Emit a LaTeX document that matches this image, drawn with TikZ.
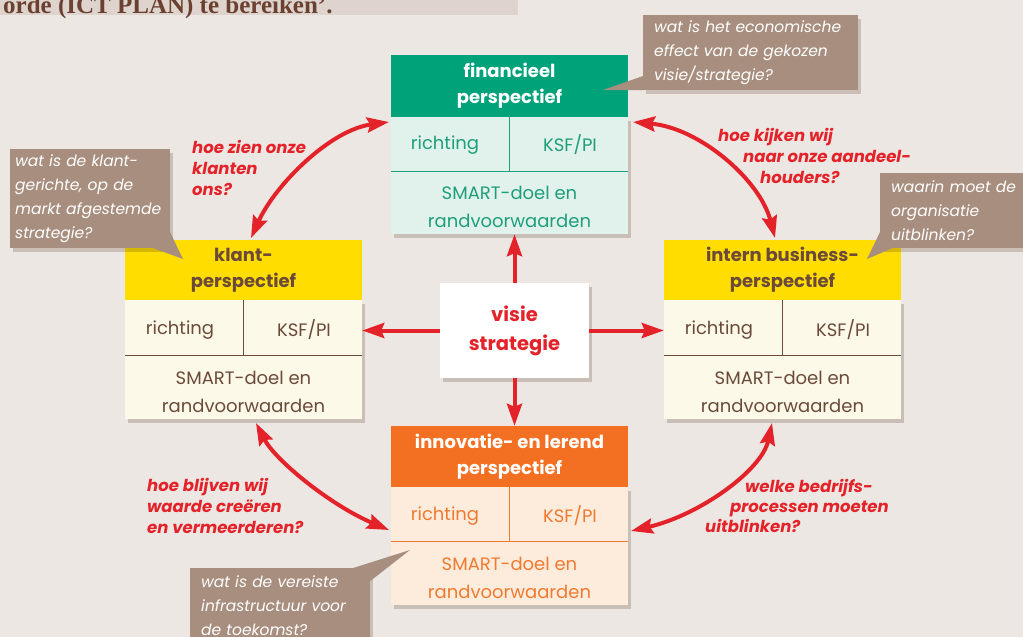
\documentclass[tikz,border=0pt]{standalone}
\usepackage{fontspec}
\setmainfont{Poppins}
\newfontfamily\serifb{Liberation Serif}
\usetikzlibrary{arrows.meta,shadows}
\definecolor{bg}{HTML}{EDE7E3}
\definecolor{band}{HTML}{DED4CD}
\definecolor{bandtext}{HTML}{6B4030}
\definecolor{fgreen}{HTML}{00A27A}
\definecolor{mint}{HTML}{E1F2EC}
\definecolor{greentext}{HTML}{1E9E7A}
\definecolor{kyellow}{HTML}{FFDD00}
\definecolor{cream}{HTML}{FDF9E8}
\definecolor{browntext}{HTML}{6B4A3A}
\definecolor{iorange}{HTML}{F36F21}
\definecolor{peach}{HTML}{FDEBDC}
\definecolor{orangetext}{HTML}{F07A30}
\definecolor{myred}{HTML}{E42229}
\definecolor{callbrown}{HTML}{A88E7E}
\tikzset{
  shad/.style={drop shadow={shadow xshift=3pt,shadow yshift=-4pt,opacity=0.22,fill=black!60!brown}},
  bodybox/.style={rectangle,minimum width=237,inner sep=0pt,shad},
  hdr/.style={rectangle,minimum width=237,inner sep=0pt,align=center,font=\fontsize{18}{26}\selectfont\bfseries},
  cell/.style={inner sep=0pt,font=\fontsize{18}{28}\selectfont,align=center},
  redarrow/.style={myred,line width=4pt,-{Stealth[length=22pt,width=15pt,inset=3pt]}},
  dblarrow/.style={myred,line width=4pt,{Stealth[length=22pt,width=15pt,inset=3pt]}-{Stealth[length=22pt,width=15pt,inset=3pt]}},
  redlabel/.style={anchor=base west,inner sep=0pt,text=myred,font=\fontsize{16.5}{21}\selectfont\bfseries\itshape},
  callout/.style={fill=callbrown,text=white,anchor=north west,inner xsep=11pt,inner ysep=0pt,align=left,font=\fontsize{15.5}{24}\selectfont\itshape,shad},
}
\begin{document}
\begin{tikzpicture}[x=1pt,y=-1pt]
\fill[bg] (0,0) rectangle (1023,637);
\useasboundingbox (0,0) rectangle (1023,637);
% top band
\fill[band] (0,0) rectangle (518,15);
\node[anchor=base west,inner sep=0pt,text=bandtext,font=\serifb\fontsize{25}{25}\selectfont\bfseries] (band) at (3,13) {orde (ICT PLAN) te bereiken’.};

% ---------- financieel
\node[bodybox,fill=mint,minimum height=117] (fb) at (509.5,175.5) {};
\node[hdr,fill=fgreen,minimum height=62,text=white] (fh) at (509.5,86) {financieel\\perspectief};
\draw[greentext,line width=1pt] (391,171) -- (628,171) (509.5,117) -- (509.5,171);
\node[cell,text=greentext] (fr) at (445,145) {richting};
\node[cell,text=greentext] (fk) at (570,145) {KSF/PI};
\node[cell,text=greentext] (fs) at (509.5,207) {SMART-doel en\\randvoorwaarden};

% ---------- klant
\node[bodybox,fill=cream,minimum height=119] (kb) at (243.5,359.5) {};
\node[hdr,fill=kyellow,minimum height=60,text=browntext] (kh) at (243.5,270) {klant-\\perspectief};
\draw[browntext,line width=1pt] (125,355) -- (362,355) (243.5,300) -- (243.5,355);
\node[cell,text=browntext] (kr) at (180,330) {richting};
\node[cell,text=browntext] (kk) at (304,330) {KSF/PI};
\node[cell,text=browntext] (ks) at (243.5,392) {SMART-doel en\\randvoorwaarden};

% ---------- intern
\node[bodybox,fill=cream,minimum height=119] (ib) at (782.5,359.5) {};
\node[hdr,fill=kyellow,minimum height=60,text=browntext] (ih) at (782.5,270) {intern business-\\perspectief};
\draw[browntext,line width=1pt] (664,355) -- (901,355) (782.5,300) -- (782.5,355);
\node[cell,text=browntext] (ir) at (719,330) {richting};
\node[cell,text=browntext] (ik) at (843,330) {KSF/PI};
\node[cell,text=browntext] (is) at (782.5,392) {SMART-doel en\\randvoorwaarden};

% ---------- innovatie
\node[bodybox,fill=peach,minimum height=118] (nb) at (509.5,546) {};
\node[hdr,fill=iorange,minimum height=61,text=white] (nh) at (509.5,456.5) {innovatie- en lerend\\perspectief};
\draw[orangetext,line width=1pt] (391,541) -- (628,541) (509.5,487) -- (509.5,541);
\node[cell,text=orangetext] (nr) at (445,516) {richting};
\node[cell,text=orangetext] (nk) at (570,516) {KSF/PI};
\node[cell,text=orangetext] (ns) at (509.5,578) {SMART-doel en\\randvoorwaarden};

% ---------- centre
\node[rectangle,fill=white,minimum width=149,minimum height=95,inner sep=0pt,shad,
      align=center,text=myred,font=\fontsize{19.5}{29}\selectfont\bfseries] (vs) at (514.5,330.5) {visie\\strategie};

% straight arrows
\draw[redarrow] (vs.north) -- (vs.north |- fb.south);
\draw[redarrow] (vs.south) -- (vs.south |- nh.north);
\draw[redarrow] (vs.west) -- (vs.west -| kb.east);
\draw[redarrow] (vs.east) -- (vs.east -| ib.west);

% curved arrows
\coordinate (a1s) at (251,238);
\coordinate (a1e) at (389,122);
\draw[dblarrow] (a1s) .. controls (275,185) and (330,130) .. (a1e);
\coordinate (a2s) at (633,122);
\coordinate (a2e) at (775,238);
\draw[dblarrow] (a2s) .. controls (700,128) and (760,180) .. (a2e);
\coordinate (a3s) at (256,423);
\coordinate (a3e) at (389,530);
\draw[dblarrow] (a3s) .. controls (275,460) and (330,505) .. (a3e);
\coordinate (a4s) at (772,423);
\coordinate (a4e) at (631,531);
\draw[dblarrow] (a4s) .. controls (762,470) and (700,515) .. (a4e);

% red labels
\node[redlabel] (l1a) at (192,153) {hoe zien onze};
\node[redlabel] (l1b) at (192,174) {klanten};
\node[redlabel] (l1c) at (192,195) {ons?};
\node[redlabel] (l2a) at (718,141) {hoe kijken wij};
\node[redlabel] (l2b) at (743,162) {naar onze aandeel-};
\node[redlabel] (l2c) at (760,183) {houders?};
\node[redlabel] (l3a) at (147,491) {hoe blijven wij};
\node[redlabel] (l3b) at (147,512) {waarde creëren};
\node[redlabel] (l3c) at (147,533) {en vermeerderen?};
\node[redlabel] (l4a) at (745,492) {welke bedrijfs-};
\node[redlabel] (l4b) at (730,512) {processen moeten};
\node[redlabel] (l4c) at (705,532) {uitblinken?};

% callouts
\node[callout,minimum height=75,text width=193] (c1) at (643,15) {wat is het economische\\effect van de gekozen\\visie/strategie?};
\fill[callbrown] (643,76) -- (603,90) -- (643,90) -- cycle;
\node[callout,minimum height=99,inner xsep=5pt,text width=150] (c2) at (10,149) {wat is de klant-\\gerichte, op de\\markt afgestemde\\strategie?};
\fill[callbrown] (150,247) -- (183,259) -- (170,232) -- cycle;
\node[callout,minimum height=75,text width=135] (c3) at (880,173) {waarin moet de\\organisatie\\uitblinken?};
\fill[callbrown] (881,230) -- (867,259) -- (895,247) -- cycle;
\node[callout,minimum height=74,text width=158] (c4) at (190,568) {wat is de vereiste\\infrastructuur voor\\de toekomst?};
\fill[callbrown] (350,569) -- (410,550) -- (369,582) -- cycle;
\end{tikzpicture}
\end{document}
